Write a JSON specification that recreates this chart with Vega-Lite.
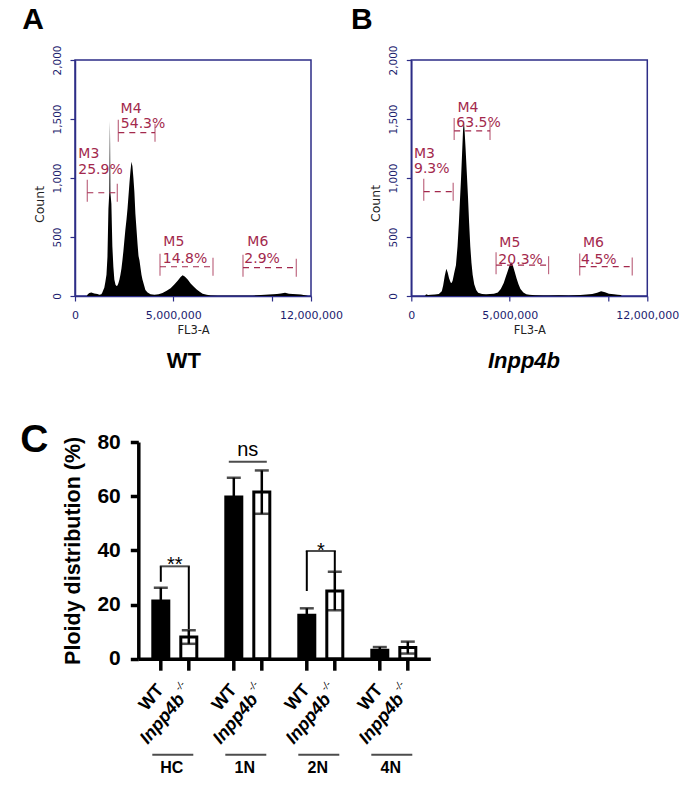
{
"$schema": "https://vega.github.io/schema/vega-lite/v6.json",
"background": "white",
"padding": {"left": 20, "top": 4, "right": 2, "bottom": 2},
"config": {"view": {"stroke": null}, "axis": {"grid": false}, "font": "Liberation Sans"},
"datasets": {
"histA": [{"fl":0,"count":0},{"fl":600000,"count":0},{"fl":650000,"count":15},{"fl":730000,"count":25},{"fl":830000,"count":30},{"fl":980000,"count":22},{"fl":1140000,"count":18},{"fl":1240000,"count":10},{"fl":1340000,"count":15},{"fl":1390000,"count":30},{"fl":1440000,"count":50},{"fl":1490000,"count":70},{"fl":1545000,"count":120},{"fl":1600000,"count":180},{"fl":1650000,"count":330},{"fl":1700000,"count":740},{"fl":1745000,"count":880},{"fl":1765000,"count":1300},{"fl":1775000,"count":1484},{"fl":1785000,"count":1300},{"fl":1800000,"count":880},{"fl":1850000,"count":780},{"fl":1900000,"count":420},{"fl":1950000,"count":250},{"fl":2000000,"count":140},{"fl":2060000,"count":95},{"fl":2110000,"count":85},{"fl":2160000,"count":90},{"fl":2210000,"count":110},{"fl":2260000,"count":140},{"fl":2310000,"count":180},{"fl":2360000,"count":230},{"fl":2410000,"count":300},{"fl":2460000,"count":380},{"fl":2510000,"count":470},{"fl":2560000,"count":560},{"fl":2620000,"count":650},{"fl":2670000,"count":740},{"fl":2720000,"count":850},{"fl":2770000,"count":960},{"fl":2820000,"count":1060},{"fl":2870000,"count":1138},{"fl":2920000,"count":1100},{"fl":2970000,"count":1000},{"fl":3020000,"count":880},{"fl":3070000,"count":700},{"fl":3130000,"count":560},{"fl":3180000,"count":440},{"fl":3230000,"count":340},{"fl":3280000,"count":300},{"fl":3330000,"count":240},{"fl":3380000,"count":180},{"fl":3430000,"count":140},{"fl":3480000,"count":110},{"fl":3530000,"count":80},{"fl":3580000,"count":50},{"fl":3690000,"count":30},{"fl":3840000,"count":15},{"fl":4040000,"count":10},{"fl":4250000,"count":15},{"fl":4450000,"count":25},{"fl":4660000,"count":45},{"fl":4860000,"count":65},{"fl":5060000,"count":100},{"fl":5220000,"count":130},{"fl":5370000,"count":160},{"fl":5470000,"count":175},{"fl":5580000,"count":165},{"fl":5730000,"count":140},{"fl":5880000,"count":105},{"fl":6030000,"count":80},{"fl":6190000,"count":55},{"fl":6340000,"count":35},{"fl":6490000,"count":20},{"fl":6700000,"count":10},{"fl":6900000,"count":5},{"fl":7260000,"count":3},{"fl":7770000,"count":3},{"fl":8530000,"count":2},{"fl":9040000,"count":3},{"fl":9450000,"count":8},{"fl":9660000,"count":10},{"fl":9860000,"count":12},{"fl":10070000,"count":15},{"fl":10270000,"count":18},{"fl":10470000,"count":22},{"fl":10680000,"count":28},{"fl":10880000,"count":20},{"fl":11080000,"count":18},{"fl":11290000,"count":15},{"fl":11490000,"count":12},{"fl":11750000,"count":5},{"fl":11850000,"count":0},{"fl":12000000,"count":0}],
"histB": [{"fl":0,"count":0},{"fl":700000,"count":0},{"fl":750000,"count":15},{"fl":850000,"count":8},{"fl":1000000,"count":10},{"fl":1200000,"count":12},{"fl":1400000,"count":18},{"fl":1550000,"count":40},{"fl":1620000,"count":90},{"fl":1700000,"count":170},{"fl":1780000,"count":230},{"fl":1850000,"count":200},{"fl":1920000,"count":150},{"fl":2000000,"count":115},{"fl":2050000,"count":110},{"fl":2100000,"count":130},{"fl":2150000,"count":170},{"fl":2200000,"count":210},{"fl":2270000,"count":260},{"fl":2350000,"count":420},{"fl":2420000,"count":620},{"fl":2480000,"count":830},{"fl":2530000,"count":1000},{"fl":2580000,"count":1200},{"fl":2630000,"count":1400},{"fl":2670000,"count":1490},{"fl":2710000,"count":1400},{"fl":2760000,"count":1250},{"fl":2820000,"count":1050},{"fl":2880000,"count":850},{"fl":2940000,"count":620},{"fl":3000000,"count":420},{"fl":3060000,"count":280},{"fl":3120000,"count":180},{"fl":3200000,"count":100},{"fl":3300000,"count":50},{"fl":3400000,"count":28},{"fl":3600000,"count":18},{"fl":3800000,"count":15},{"fl":4000000,"count":18},{"fl":4200000,"count":20},{"fl":4400000,"count":30},{"fl":4550000,"count":60},{"fl":4700000,"count":110},{"fl":4800000,"count":160},{"fl":4900000,"count":210},{"fl":5000000,"count":260},{"fl":5080000,"count":285},{"fl":5160000,"count":260},{"fl":5250000,"count":210},{"fl":5350000,"count":150},{"fl":5450000,"count":100},{"fl":5550000,"count":60},{"fl":5700000,"count":30},{"fl":5850000,"count":15},{"fl":6000000,"count":10},{"fl":6300000,"count":6},{"fl":6700000,"count":5},{"fl":7000000,"count":4},{"fl":7500000,"count":6},{"fl":8000000,"count":4},{"fl":8600000,"count":8},{"fl":8900000,"count":12},{"fl":9200000,"count":18},{"fl":9450000,"count":28},{"fl":9650000,"count":40},{"fl":9850000,"count":32},{"fl":10050000,"count":20},{"fl":10300000,"count":14},{"fl":10500000,"count":10},{"fl":10650000,"count":8},{"fl":10700000,"count":0},{"fl":12000000,"count":0}],
"gatesA": [
{"gate":"M3","pct":"25.9%","start":625000,"end":2151000,"level":875,"nameX":168000,"nameY":1172,"pctX":168000,"pctY":1034},
{"gate":"M4","pct":"54.3%","start":2202000,"end":4068000,"level":1384,"nameX":2319000,"nameY":1553,"pctX":2330000,"pctY":1426},
{"gate":"M5","pct":"14.8%","start":4322000,"end":7017000,"level":248,"nameX":4490000,"nameY":424,"pctX":4464000,"pctY":282},
{"gate":"M6","pct":"2.9%","start":8542000,"end":11252000,"level":240,"nameX":8761000,"nameY":424,"pctX":8608000,"pctY":282}],
"gatesB": [
{"gate":"M3","pct":"9.3%","start":633000,"end":2129000,"level":884,"nameX":138000,"nameY":1171,"pctX":138000,"pctY":1042},
{"gate":"M4","pct":"63.5%","start":2180000,"end":4003000,"level":1399,"nameX":2349000,"nameY":1557,"pctX":2290000,"pctY":1428},
{"gate":"M5","pct":"20.3%","start":4310000,"end":6980000,"level":261,"nameX":4478000,"nameY":412,"pctX":4427000,"pctY":270},
{"gate":"M6","pct":"4.5%","start":8563000,"end":11234000,"level":249,"nameX":8732000,"nameY":412,"pctX":8630000,"pctY":270}],
"bars": [
{"group":"HC","geno":"WT","mean":21.3,"lo":16.4,"hi":26.2},
{"group":"HC","geno":"KO","mean":8.0,"lo":5.5,"hi":10.5},
{"group":"1N","geno":"WT","mean":59.7,"lo":52.6,"hi":66.8},
{"group":"1N","geno":"KO","mean":61.5,"lo":53.5,"hi":69.5},
{"group":"2N","geno":"WT","mean":16.0,"lo":13.4,"hi":18.6},
{"group":"2N","geno":"KO","mean":25.0,"lo":17.9,"hi":32.1},
{"group":"4N","geno":"WT","mean":3.1,"lo":1.9,"hi":4.3},
{"group":"4N","geno":"KO","mean":4.1,"lo":1.9,"hi":6.3}],
"brackets": [
{"group":"HC","geno":"WT","from":28.4,"to":34.1},
{"group":"HC","geno":"KO","from":10.9,"to":34.1},
{"group":"2N","geno":"WT","from":25.0,"to":39.8},
{"group":"2N","geno":"KO","from":32.1,"to":39.8}],
"bracketTops": [{"group":"HC","level":34.1},{"group":"2N","level":39.8}],
"nsLine": [{"group":"1N","level":72.7}],
"sig": [{"group":"HC","label":"**","ypos":32.4},{"group":"1N","label":"ns","ypos":74.8},{"group":"2N","label":"*","ypos":37.4}],
"groups": [{"group":"HC"},{"group":"1N"},{"group":"2N"},{"group":"4N"}]
},
"columns": 2,
"align": "none",
"bounds": "flush",
"spacing": {"row": 146, "column": -19.7},
"concat": [
{
"width": 236, "height": 236,
"view": {"stroke": "#2d2d87", "strokeWidth": 1.5},
"layer": [
{"data": {"name": "histA"}, "mark": {"type": "area", "color": "black", "interpolate": "linear"},
 "encoding": {
  "x": {"field": "fl", "type": "quantitative", "title": "FL3-A", "scale": {"domain": [0, 12000000]},
   "axis": {"values": [0, 5000000, 10000000, 12000000], "labelExpr": "datum.value == 10000000 ? '' : format(datum.value, ',')", "labelFont": "DejaVu Sans", "labelFontSize": 11, "labelColor": "#1c1c6e", "labelPadding": 8, "labelFlush": false, "labelOverlap": false, "tickSize": 5, "tickColor": "#2d2d87", "tickWidth": 1.2, "domainColor": "#2d2d87", "domainWidth": 1.5, "titleFont": "DejaVu Sans", "titleFontSize": 11.5, "titleFontWeight": "normal", "titleColor": "#222222", "titlePadding": 4}},
  "y": {"field": "count", "type": "quantitative", "title": "Count", "scale": {"domain": [0, 2000]},
   "axis": {"values": [0, 500, 1000, 1500, 2000], "labelExpr": "format(datum.value, ',')", "labelAngle": 270, "labelAlign": "center", "labelBaseline": "bottom", "labelFont": "DejaVu Sans", "labelFontSize": 10.5, "labelColor": "#1c1c6e", "labelPadding": 8, "tickSize": 5, "tickColor": "#2d2d87", "tickWidth": 1.2, "domainColor": "#2d2d87", "domainWidth": 1.5, "titleFont": "DejaVu Sans", "titleFontSize": 12.5, "titleFontWeight": "normal", "titleColor": "#222222", "titleAngle": 270, "titleAlign": "center", "titleBaseline": "middle", "titleX": -36, "titleY": 144}}}},
{"data": {"name": "gatesA"}, "mark": {"type": "rule", "color": "#a3294d", "strokeWidth": 1.2, "strokeDash": [6, 5]},
 "encoding": {"x": {"field": "start", "type": "quantitative", "title": "FL3-A", "scale": {"domain": [0, 12000000]}}, "x2": {"field": "end"}, "y": {"field": "level", "type": "quantitative", "title": "Count", "scale": {"domain": [0, 2000]}}}},
{"data": {"name": "gatesA"}, "mark": {"type": "tick", "orient": "vertical", "color": "#a3294d", "size": 22, "thickness": 1.2, "yOffset": -2},
 "encoding": {"x": {"field": "start", "type": "quantitative", "title": "FL3-A", "scale": {"domain": [0, 12000000]}}, "y": {"field": "level", "type": "quantitative", "title": "Count", "scale": {"domain": [0, 2000]}}}},
{"data": {"name": "gatesA"}, "mark": {"type": "tick", "orient": "vertical", "color": "#a3294d", "size": 18, "thickness": 1.2},
 "encoding": {"x": {"field": "end", "type": "quantitative", "title": "FL3-A", "scale": {"domain": [0, 12000000]}}, "y": {"field": "level", "type": "quantitative", "title": "Count", "scale": {"domain": [0, 2000]}}}},
{"data": {"name": "gatesA"}, "mark": {"type": "text", "align": "left", "baseline": "alphabetic", "font": "DejaVu Sans", "fontSize": 14, "color": "#a3294d"},
 "encoding": {"x": {"field": "nameX", "type": "quantitative", "title": "FL3-A", "scale": {"domain": [0, 12000000]}}, "y": {"field": "nameY", "type": "quantitative", "title": "Count", "scale": {"domain": [0, 2000]}}, "text": {"field": "gate"}}},
{"data": {"name": "gatesA"}, "mark": {"type": "text", "align": "left", "baseline": "alphabetic", "font": "DejaVu Sans", "fontSize": 14, "color": "#a3294d"},
 "encoding": {"x": {"field": "pctX", "type": "quantitative", "title": "FL3-A", "scale": {"domain": [0, 12000000]}}, "y": {"field": "pctY", "type": "quantitative", "title": "Count", "scale": {"domain": [0, 2000]}}, "text": {"field": "pct"}}},
{"data": {"values": [{"label": "A"}]}, "mark": {"type": "text", "align": "left", "baseline": "alphabetic", "fontSize": 30, "fontWeight": "bold", "color": "black"},
 "encoding": {"x": {"datum": -2680000}, "y": {"datum": 2263}, "text": {"field": "label"}}},
{"data": {"values": [{"label": "WT"}]}, "mark": {"type": "text", "align": "center", "baseline": "alphabetic", "fontSize": 22, "fontWeight": "bold", "color": "black"},
 "encoding": {"x": {"datum": 5530000}, "y": {"datum": -608}, "text": {"field": "label"}}}
]},
{
"width": 236, "height": 236,
"view": {"stroke": "#2d2d87", "strokeWidth": 1.5},
"layer": [
{"data": {"name": "histB"}, "mark": {"type": "area", "color": "black", "interpolate": "linear"},
 "encoding": {
  "x": {"field": "fl", "type": "quantitative", "title": "FL3-A", "scale": {"domain": [0, 12000000]},
   "axis": {"values": [0, 5000000, 10000000, 12000000], "labelExpr": "datum.value == 10000000 ? '' : format(datum.value, ',')", "labelFont": "DejaVu Sans", "labelFontSize": 11, "labelColor": "#1c1c6e", "labelPadding": 8, "labelFlush": false, "labelOverlap": false, "tickSize": 5, "tickColor": "#2d2d87", "tickWidth": 1.2, "domainColor": "#2d2d87", "domainWidth": 1.5, "titleFont": "DejaVu Sans", "titleFontSize": 11.5, "titleFontWeight": "normal", "titleColor": "#222222", "titlePadding": 4}},
  "y": {"field": "count", "type": "quantitative", "title": "Count", "scale": {"domain": [0, 2000]},
   "axis": {"values": [0, 500, 1000, 1500, 2000], "labelExpr": "format(datum.value, ',')", "labelAngle": 270, "labelAlign": "center", "labelBaseline": "bottom", "labelFont": "DejaVu Sans", "labelFontSize": 10.5, "labelColor": "#1c1c6e", "labelPadding": 8, "tickSize": 5, "tickColor": "#2d2d87", "tickWidth": 1.2, "domainColor": "#2d2d87", "domainWidth": 1.5, "titleFont": "DejaVu Sans", "titleFontSize": 12.5, "titleFontWeight": "normal", "titleColor": "#222222", "titleAngle": 270, "titleAlign": "center", "titleBaseline": "middle", "titleX": -36, "titleY": 143}}}},
{"data": {"name": "gatesB"}, "mark": {"type": "rule", "color": "#a3294d", "strokeWidth": 1.2, "strokeDash": [6, 5]},
 "encoding": {"x": {"field": "start", "type": "quantitative", "title": "FL3-A", "scale": {"domain": [0, 12000000]}}, "x2": {"field": "end"}, "y": {"field": "level", "type": "quantitative", "title": "Count", "scale": {"domain": [0, 2000]}}}},
{"data": {"name": "gatesB"}, "mark": {"type": "tick", "orient": "vertical", "color": "#a3294d", "size": 22, "thickness": 1.2, "yOffset": -2},
 "encoding": {"x": {"field": "start", "type": "quantitative", "title": "FL3-A", "scale": {"domain": [0, 12000000]}}, "y": {"field": "level", "type": "quantitative", "title": "Count", "scale": {"domain": [0, 2000]}}}},
{"data": {"name": "gatesB"}, "mark": {"type": "tick", "orient": "vertical", "color": "#a3294d", "size": 18, "thickness": 1.2},
 "encoding": {"x": {"field": "end", "type": "quantitative", "title": "FL3-A", "scale": {"domain": [0, 12000000]}}, "y": {"field": "level", "type": "quantitative", "title": "Count", "scale": {"domain": [0, 2000]}}}},
{"data": {"name": "gatesB"}, "mark": {"type": "text", "align": "left", "baseline": "alphabetic", "font": "DejaVu Sans", "fontSize": 14, "color": "#a3294d"},
 "encoding": {"x": {"field": "nameX", "type": "quantitative", "title": "FL3-A", "scale": {"domain": [0, 12000000]}}, "y": {"field": "nameY", "type": "quantitative", "title": "Count", "scale": {"domain": [0, 2000]}}, "text": {"field": "gate"}}},
{"data": {"name": "gatesB"}, "mark": {"type": "text", "align": "left", "baseline": "alphabetic", "font": "DejaVu Sans", "fontSize": 14, "color": "#a3294d"},
 "encoding": {"x": {"field": "pctX", "type": "quantitative", "title": "FL3-A", "scale": {"domain": [0, 12000000]}}, "y": {"field": "pctY", "type": "quantitative", "title": "Count", "scale": {"domain": [0, 2000]}}, "text": {"field": "pct"}}},
{"data": {"values": [{"label": "B"}]}, "mark": {"type": "text", "align": "left", "baseline": "alphabetic", "fontSize": 30, "fontWeight": "bold", "color": "black"},
 "encoding": {"x": {"datum": -3066000}, "y": {"datum": 2263}, "text": {"field": "label"}}},
{"data": {"values": [{"label": "Inpp4b"}]}, "mark": {"type": "text", "align": "center", "baseline": "alphabetic", "fontSize": 22, "fontWeight": "bold", "fontStyle": "italic", "color": "black"},
 "encoding": {"x": {"datum": 5730000}, "y": {"datum": -608}, "text": {"field": "label"}}}
]},
{
"width": 355.3, "height": 216.7,
"layer": [
{"data": {"name": "bars"}, "mark": {"type": "bar", "width": 16, "stroke": "black", "strokeWidth": 3},
 "encoding": {
  "x": {"field": "group", "type": "nominal", "title": null, "scale": {"domain": ["HC", "1N", "2N", "4N"], "range": [63.3, 355.3], "paddingInner": 0, "paddingOuter": 0},
   "axis": {"labels": false, "ticks": false, "title": null, "domainWidth": 3.5, "domainColor": "black"}},
  "xOffset": {"field": "geno", "type": "nominal", "scale": {"domain": ["WT", "KO"], "paddingInner": 0.4, "paddingOuter": 0.5036}},
  "y": {"field": "mean", "type": "quantitative", "title": "Ploidy distribution (%)", "scale": {"domain": [0, 80]},
   "axis": {"values": [0, 20, 40, 60, 80], "offset": -63.3, "domainWidth": 3.5, "domainColor": "black", "tickWidth": 3.5, "tickSize": 8, "tickColor": "black", "labelFontSize": 21, "labelFontWeight": "bold", "labelColor": "black", "labelPadding": 10, "titleFontSize": 21.5, "titleFontWeight": "bold", "titleColor": "black", "titlePadding": 12}},
  "fill": {"field": "geno", "type": "nominal", "scale": {"domain": ["WT", "KO"], "range": ["black", "white"]}, "legend": null}}},
{"data": {"name": "bars"}, "mark": {"type": "rule", "strokeWidth": 2.5, "color": "black"},
 "encoding": {
  "x": {"field": "group", "type": "nominal", "title": null, "scale": {"domain": ["HC", "1N", "2N", "4N"], "range": [63.3, 355.3], "paddingInner": 0, "paddingOuter": 0}},
  "xOffset": {"field": "geno", "type": "nominal", "scale": {"domain": ["WT", "KO"], "paddingInner": 0.4, "paddingOuter": 0.5036}},
  "y": {"field": "lo", "type": "quantitative", "title": "Ploidy distribution (%)", "scale": {"domain": [0, 80]}}, "y2": {"field": "hi"}}},
{"data": {"name": "bars"}, "mark": {"type": "tick", "orient": "horizontal", "size": 14, "thickness": 2.5, "color": "black"},
 "encoding": {
  "x": {"field": "group", "type": "nominal", "title": null, "scale": {"domain": ["HC", "1N", "2N", "4N"], "range": [63.3, 355.3], "paddingInner": 0, "paddingOuter": 0}},
  "xOffset": {"field": "geno", "type": "nominal", "scale": {"domain": ["WT", "KO"], "paddingInner": 0.4, "paddingOuter": 0.5036}},
  "y": {"field": "hi", "type": "quantitative", "title": "Ploidy distribution (%)", "scale": {"domain": [0, 80]}}}},
{"data": {"name": "bars"}, "mark": {"type": "tick", "orient": "horizontal", "size": 14, "thickness": 2.5, "color": "black"},
 "encoding": {
  "x": {"field": "group", "type": "nominal", "title": null, "scale": {"domain": ["HC", "1N", "2N", "4N"], "range": [63.3, 355.3], "paddingInner": 0, "paddingOuter": 0}},
  "xOffset": {"field": "geno", "type": "nominal", "scale": {"domain": ["WT", "KO"], "paddingInner": 0.4, "paddingOuter": 0.5036}},
  "y": {"field": "lo", "type": "quantitative", "title": "Ploidy distribution (%)", "scale": {"domain": [0, 80]}}}},
{"data": {"name": "bars"}, "mark": {"type": "rule", "strokeWidth": 3.5, "color": "black"},
 "encoding": {
  "x": {"field": "group", "type": "nominal", "title": null, "scale": {"domain": ["HC", "1N", "2N", "4N"], "range": [63.3, 355.3], "paddingInner": 0, "paddingOuter": 0}},
  "xOffset": {"field": "geno", "type": "nominal", "scale": {"domain": ["WT", "KO"], "paddingInner": 0.4, "paddingOuter": 0.5036}},
  "y": {"datum": 0}, "y2": {"datum": -4.43}}},
{"data": {"name": "bars"}, "transform": [{"filter": "datum.geno == 'WT'"}], "mark": {"type": "text", "angle": 310, "align": "right", "baseline": "middle", "fontSize": 18, "fontWeight": "bold", "color": "black"},
 "encoding": {
  "x": {"field": "group", "type": "nominal", "title": null, "scale": {"domain": ["HC", "1N", "2N", "4N"], "range": [63.3, 355.3], "paddingInner": 0, "paddingOuter": 0}},
  "xOffset": {"field": "geno", "type": "nominal", "scale": {"domain": ["WT", "KO"], "paddingInner": 0.4, "paddingOuter": 0.5036}},
  "y": {"datum": -10.45}, "text": {"value": "WT"}}},
{"data": {"name": "bars"}, "transform": [{"filter": "datum.geno == 'KO'"}], "mark": {"type": "text", "angle": 310, "align": "right", "baseline": "middle", "fontSize": 18, "fontWeight": "bold", "fontStyle": "italic", "color": "black", "dx": -4.5, "dy": -5.4},
 "encoding": {
  "x": {"field": "group", "type": "nominal", "title": null, "scale": {"domain": ["HC", "1N", "2N", "4N"], "range": [63.3, 355.3], "paddingInner": 0, "paddingOuter": 0}},
  "xOffset": {"field": "geno", "type": "nominal", "scale": {"domain": ["WT", "KO"], "paddingInner": 0.4, "paddingOuter": 0.5036}},
  "y": {"datum": -14}, "text": {"value": "Inpp4b"}}},
{"data": {"name": "bars"}, "transform": [{"filter": "datum.geno == 'KO'"}], "mark": {"type": "text", "angle": 310, "align": "center", "baseline": "middle", "fontSize": 10, "fontStyle": "italic", "color": "black", "dx": -5.6, "dy": -6.7},
 "encoding": {
  "x": {"field": "group", "type": "nominal", "title": null, "scale": {"domain": ["HC", "1N", "2N", "4N"], "range": [63.3, 355.3], "paddingInner": 0, "paddingOuter": 0}},
  "xOffset": {"field": "geno", "type": "nominal", "scale": {"domain": ["WT", "KO"], "paddingInner": 0.4, "paddingOuter": 0.5036}},
  "y": {"datum": -10.1}, "text": {"value": "-/-"}}},
{"data": {"name": "brackets"}, "mark": {"type": "rule", "strokeWidth": 2, "color": "black"},
 "encoding": {
  "x": {"field": "group", "type": "nominal", "title": null, "scale": {"domain": ["HC", "1N", "2N", "4N"], "range": [63.3, 355.3], "paddingInner": 0, "paddingOuter": 0}},
  "xOffset": {"field": "geno", "type": "nominal", "scale": {"domain": ["WT", "KO"], "paddingInner": 0.4, "paddingOuter": 0.5036}},
  "y": {"field": "from", "type": "quantitative", "title": "Ploidy distribution (%)", "scale": {"domain": [0, 80]}}, "y2": {"field": "to"}}},
{"data": {"name": "bracketTops"}, "mark": {"type": "tick", "orient": "horizontal", "size": 30, "thickness": 2, "color": "black"},
 "encoding": {
  "x": {"field": "group", "type": "nominal", "title": null, "scale": {"domain": ["HC", "1N", "2N", "4N"], "range": [63.3, 355.3], "paddingInner": 0, "paddingOuter": 0}},
  "y": {"field": "level", "type": "quantitative", "title": "Ploidy distribution (%)", "scale": {"domain": [0, 80]}}}},
{"data": {"name": "nsLine"}, "mark": {"type": "tick", "orient": "horizontal", "size": 38, "thickness": 2, "color": "black"},
 "encoding": {
  "x": {"field": "group", "type": "nominal", "title": null, "scale": {"domain": ["HC", "1N", "2N", "4N"], "range": [63.3, 355.3], "paddingInner": 0, "paddingOuter": 0}},
  "y": {"field": "level", "type": "quantitative", "title": "Ploidy distribution (%)", "scale": {"domain": [0, 80]}}}},
{"data": {"name": "sig"}, "mark": {"type": "text", "align": "center", "baseline": "alphabetic", "fontSize": 20, "color": "black"},
 "encoding": {
  "x": {"field": "group", "type": "nominal", "title": null, "scale": {"domain": ["HC", "1N", "2N", "4N"], "range": [63.3, 355.3], "paddingInner": 0, "paddingOuter": 0}},
  "y": {"field": "ypos", "type": "quantitative", "title": "Ploidy distribution (%)", "scale": {"domain": [0, 80]}}, "text": {"field": "label"}}},
{"data": {"name": "groups"}, "mark": {"type": "tick", "orient": "horizontal", "size": 41, "thickness": 2, "color": "black", "xOffset": -2},
 "encoding": {
  "x": {"field": "group", "type": "nominal", "title": null, "scale": {"domain": ["HC", "1N", "2N", "4N"], "range": [63.3, 355.3], "paddingInner": 0, "paddingOuter": 0}},
  "y": {"datum": -35.5}}},
{"data": {"name": "groups"}, "mark": {"type": "text", "align": "center", "baseline": "alphabetic", "fontSize": 16, "fontWeight": "bold", "color": "black", "dx": -3},
 "encoding": {
  "x": {"field": "group", "type": "nominal", "title": null, "scale": {"domain": ["HC", "1N", "2N", "4N"], "range": [63.3, 355.3], "paddingInner": 0, "paddingOuter": 0}},
  "y": {"datum": -42.3}, "text": {"field": "group"}}},
{"data": {"values": [{"label": "C"}]}, "mark": {"type": "text", "align": "left", "baseline": "alphabetic", "fontSize": 39, "fontWeight": "bold", "color": "black", "dx": -154.5},
 "encoding": {"x": {"datum": "HC"}, "y": {"datum": 76.3}, "text": {"field": "label"}}}
]}
]
}
